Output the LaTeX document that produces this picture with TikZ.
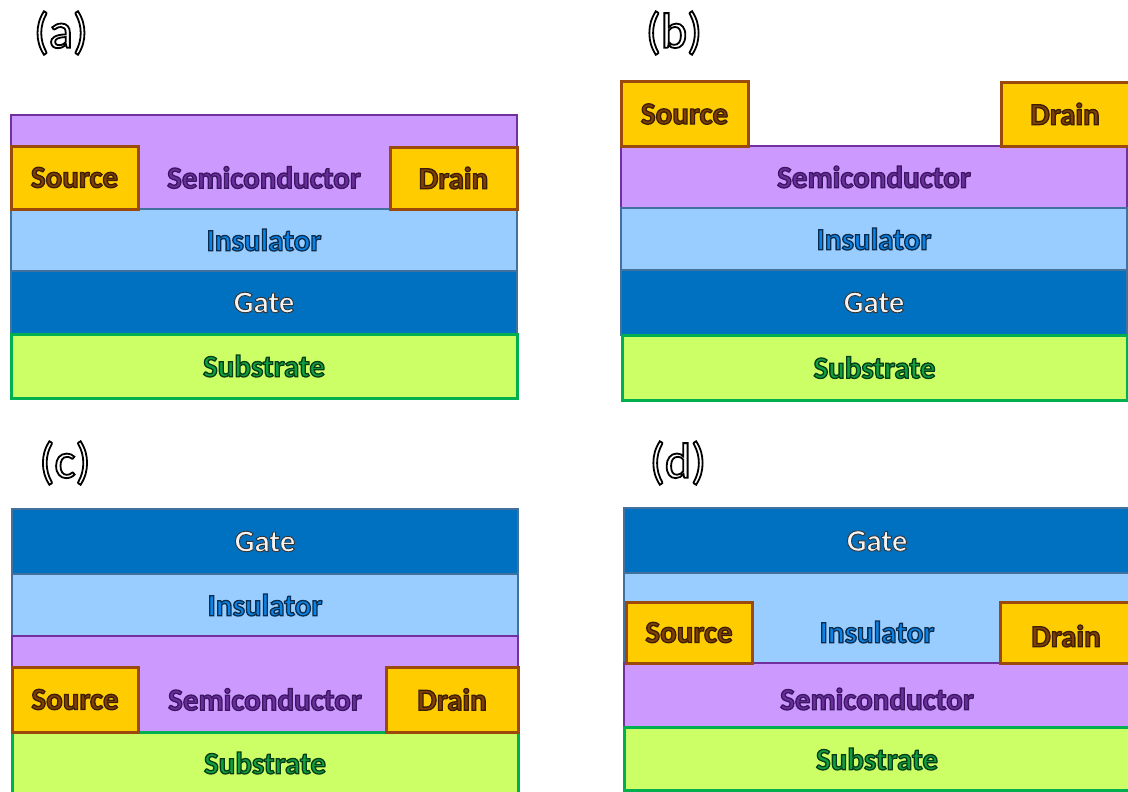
\documentclass[tikz,border=0pt]{standalone}
\usepackage{fontspec}
\setmainfont{Carlito}
\usetikzlibrary{fit}

\definecolor{semiFill}{HTML}{CC99FF}
\definecolor{semiLine}{HTML}{7030A0}
\definecolor{semiText}{HTML}{6A2D9C}
\definecolor{contFill}{HTML}{FFCC00}
\definecolor{contLine}{HTML}{9C4A0C}
\definecolor{contText}{HTML}{7F3F06}
\definecolor{insFill}{HTML}{99CCFF}
\definecolor{insLine}{HTML}{41719C}
\definecolor{insText}{HTML}{0A84E6}
\definecolor{gateFill}{HTML}{0070C0}
\definecolor{gateText}{HTML}{F4F4F4}
\definecolor{subFill}{HTML}{CCFF66}
\definecolor{subLine}{HTML}{00B050}
\definecolor{subText}{HTML}{0FA040}

% text filled in the current colour, stroked in the given rgb
\newcommand\outlined[3]{\special{pdf:literal direct 2 Tr #2 w #1 RG}#3\special{pdf:literal direct 0 Tr}}

\begin{document}
\begin{tikzpicture}[x=1pt,y=-1pt]
        \tikzset{layer/.style={inner sep=0pt, outer sep=0pt, line width=2.6pt},
                 semi/.style={layer, draw=semiLine, fill=semiFill},
                 cont/.style={layer, draw=contLine, fill=contFill, line width=3pt},
                 ins/.style={layer, draw=insLine, fill=insFill},
                 gate/.style={layer, draw=insLine, fill=gateFill},
                 sub/.style={layer, draw=subLine, fill=subFill, line width=3pt},
                 tag/.style={inner sep=0pt, text=white, font=\fontsize{50}{60}\selectfont},
                 word/.style={inner sep=0pt, font=\fontsize{31}{36}\selectfont\bfseries},
                 wsemi/.style={word, text=semiText},
                 wcont/.style={word, text=contText},
                 wins/.style={word, text=insText},
                 wgate/.style={word, text=gateText},
                 wsub/.style={word, text=subText}}
        \newcommand\Semi{\outlined{0.23 0.09 0.38}{1.3}{Semiconductor}}
        \newcommand\Src{\outlined{0.23 0.12 0.02}{1.3}{Source}}
        \newcommand\Drn{\outlined{0.23 0.12 0.02}{1.3}{Drain}}
        \newcommand\Ins{\outlined{0.05 0.17 0.29}{1.3}{Insulator}}
        \newcommand\Gat{\outlined{0.2 0.2 0.2}{0.9}{Gate}}
        \newcommand\Sub{\outlined{0.04 0.23 0.09}{1.3}{Substrate}}
        \newcommand\Tag[1]{\outlined{0 0 0}{1.8}{#1}}
        \useasboundingbox[fill=white] (0,0) rectangle (1128,792);

        % (a) bottom gate, bottom contact
        \node[tag] (tagA) at (61,33) {\Tag{(a)}};
        \node[semi, fit={(11,115) (517,209)}] (semiA) {};
        \node[ins, fit={(11,209) (517,271)}] (insA) {};
        \node[gate, fit={(11,271) (517,334)}] (gateA) {};
        \node[sub, fit={(11,334) (517,398)}] (subA) {};
        \node[cont, fit={(11,146) (138,209)}] (srcA) {};
        \node[cont, fit={(390,147) (517,209)}] (drnA) {};
        \node[wcont] at (srcA.center) {\Src};
        \node[wcont] at (drnA.center) {\Drn};
        \node[wsemi] at (semiA.center |- srcA.center) {\Semi};
        \node[wins] at (insA.center) {\Ins};
        \node[wgate] at (gateA.center) {\Gat};
        \node[wsub] at (subA.center) {\Sub};

        % (b) bottom gate, top contact
        \node[tag] (tagB) at (674,33) {\Tag{(b)}};
        \node[semi, fit={(621,146) (1127,208)}] (semiB) {};
        \node[ins, fit={(621,208) (1127,270)}] (insB) {};
        \node[gate, fit={(621,270) (1127,335)}] (gateB) {};
        \node[sub, fit={(622,335) (1127,400)}] (subB) {};
        \node[cont, fit={(621,82) (748,146)}] (srcB) {};
        \node[cont, fit={(1001,83) (1136,146)}] (drnB) {};
        \node[wcont] at (srcB.center) {\Src};
        \node[wcont] at (1065,114) {\Drn};
        \node[wsemi] at (semiB.center) {\Semi};
        \node[wins] at (insB.center) {\Ins};
        \node[wgate] at (gateB.center) {\Gat};
        \node[wsub] at (subB.center) {\Sub};

        % (c) top gate, bottom contact
        \node[tag] (tagC) at (65,463) {\Tag{(c)}};
        \node[gate, fit={(12,509) (518,574)}] (gateC) {};
        \node[ins, fit={(12,574) (518,636)}] (insC) {};
        \node[semi, fit={(12,636) (518,732)}] (semiC) {};
        \node[sub, fit={(12,732) (518,800)}] (subC) {};
        \node[cont, fit={(12,667) (138,732)}] (srcC) {};
        \node[cont, fit={(386,667) (518,732)}] (drnC) {};
        \node[wgate] at (gateC.center) {\Gat};
        \node[wins] at (insC.center) {\Ins};
        \node[wcont] at (srcC.center) {\Src};
        \node[wcont] at (drnC.center) {\Drn};
        \node[wsemi] at (semiC.center |- srcC.center) {\Semi};
        \node[wsub] at (265,763) {\Sub};

        % (d) top gate, top contact
        \node[tag] (tagD) at (678,463) {\Tag{(d)}};
        \node[gate, fit={(624,508) (1136,573)}] (gateD) {};
        \node[ins, fit={(624,573) (1136,663)}] (insD) {};
        \node[semi, fit={(624,663) (1136,727)}] (semiD) {};
        \node[sub, fit={(624,727) (1136,790)}] (subD) {};
        \node[cont, fit={(626,602) (752,663)}] (srcD) {};
        \node[cont, fit={(1000,602) (1136,663)}] (drnD) {};
        \node[wgate] at (877,541) {\Gat};
        \node[wins] at (877,632) {\Ins};
        \node[wcont] at (srcD.center) {\Src};
        \node[wcont] at (1066,636) {\Drn};
        \node[wsemi] at (877,699) {\Semi};
        \node[wsub] at (877,759) {\Sub};
    \end{tikzpicture}
\end{document}
